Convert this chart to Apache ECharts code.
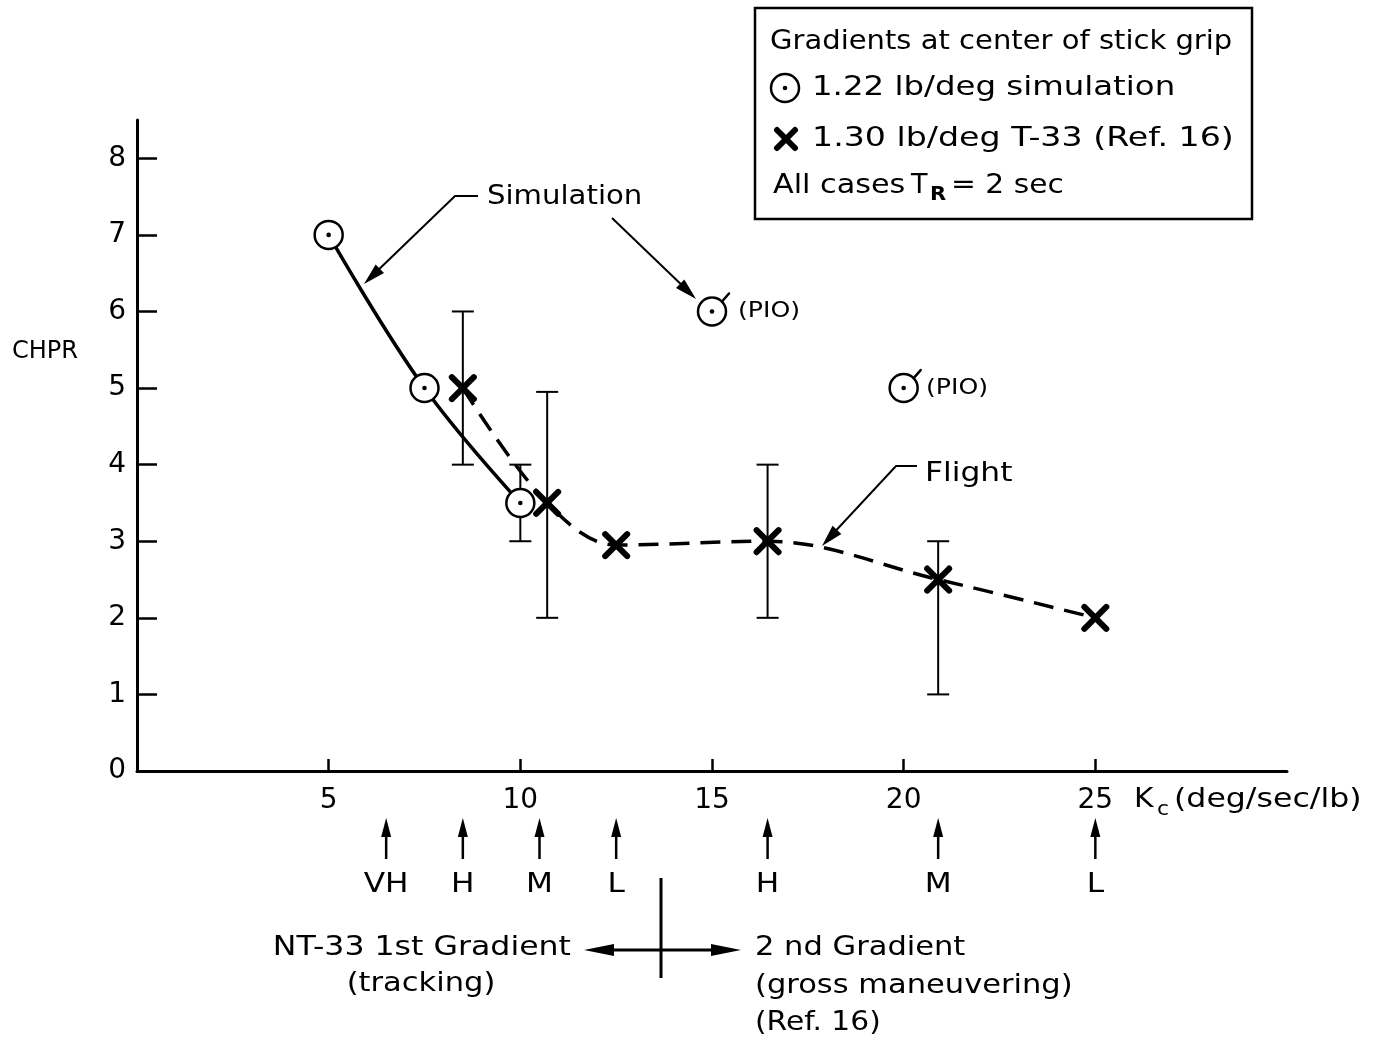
<!DOCTYPE html>
<html>
<head>
<meta charset="utf-8">
<script src="https://cdn.jsdelivr.net/npm/echarts@6/dist/echarts.min.js"></script>
<style>
  html, body { margin: 0; padding: 0; background: #fff; }
  #chart { width: 1380px; height: 1039px; }
</style>
</head>
<body>
<div id="chart"></div>
<script>
// Axis ticks
const xTicks = [5, 10, 15, 20, 25];
const yTicks = [0, 1, 2, 3, 4, 5, 6, 7, 8];

// Simulation (1.22 lb/deg): points on the faired curve, and the two PIO cases
const simCurve = [[5, 7], [7.5, 5], [10, 3.5]];
const simPio = [[15, 6], [20, 5]];
// [Kc, low, high]
const simError = [[10, 3, 4]];

// Flight, T-33 (1.30 lb/deg)
const flight = [[8.5, 5], [10.7, 3.5], [12.5, 2.95], [16.45, 3], [20.9, 2.5], [25, 2]];
// [Kc, low, high]
const flightError = [[8.5, 4, 6], [10.7, 2, 4.95], [16.45, 2, 4], [20.9, 1, 3]];

// Gradient settings marked under the axis
const gradientKc = [6.5, 8.5, 10.5, 12.5, 16.45, 20.9, 25];
const gradientNames = ['VH', 'H', 'M', 'L', 'H', 'M', 'L'];

const FONT = 'DejaVu Sans';
const INK = '#000';

function arrowHead(tip, from, len, half) {
  const dx = tip[0] - from[0], dy = tip[1] - from[1];
  const d = Math.hypot(dx, dy);
  const ux = dx / d, uy = dy / d;
  const bx = tip[0] - ux * len, by = tip[1] - uy * len;
  return [tip, [bx - uy * half, by + ux * half], [bx + uy * half, by - ux * half]];
}

// Lettering: a font size plus a horizontal stretch for the wide drafting style
function label(text, x, y, size, stretch, align, weight) {
  return {
    type: 'text', x, y, scaleX: stretch || 1,
    style: {
      text, fill: INK, font: `${weight || 'normal'} ${size}px "${FONT}"`,
      align: align || 'left', verticalAlign: 'middle'
    }
  };
}

function circleMark(cx, cy, pio) {
  const kids = [
    { type: 'circle', shape: { cx, cy, r: 14 }, style: { fill: '#fff', stroke: INK, lineWidth: 2.5 } },
    { type: 'circle', shape: { cx, cy, r: 2.3 }, style: { fill: INK } }
  ];
  if (pio) {
    kids.push({ type: 'line', shape: { x1: cx + 10, y1: cy - 10, x2: cx + 17, y2: cy - 18 },
      style: { stroke: INK, lineWidth: 2.5, lineCap: 'round' } });
  }
  return kids;
}

function crossMark(cx, cy, h) {
  const st = { stroke: INK, lineWidth: 6, lineCap: 'round' };
  return [
    { type: 'line', shape: { x1: cx - h, y1: cy - h, x2: cx + h, y2: cy + h }, style: st },
    { type: 'line', shape: { x1: cx - h, y1: cy + h, x2: cx + h, y2: cy - h }, style: st }
  ];
}

function renderError(params, api) {
  const x = api.value(0);
  const lo = api.coord([x, api.value(1)]);
  const hi = api.coord([x, api.value(2)]);
  const w = 11;
  const st = { stroke: INK, lineWidth: 2 };
  return {
    type: 'group',
    children: [
      { type: 'line', shape: { x1: lo[0], y1: lo[1], x2: hi[0], y2: hi[1] }, style: st },
      { type: 'line', shape: { x1: lo[0] - w, y1: lo[1], x2: lo[0] + w, y2: lo[1] }, style: st },
      { type: 'line', shape: { x1: hi[0] - w, y1: hi[1], x2: hi[0] + w, y2: hi[1] }, style: st }
    ]
  };
}

const circleData = simCurve.map(p => [p[0], p[1], 0]).concat(simPio.map(p => [p[0], p[1], 1]));

const chart = echarts.init(document.getElementById('chart'));

const graphics = [
  // legend box
  { type: 'rect', shape: { x: 755, y: 8, width: 497, height: 211 }, style: { fill: '#fff', stroke: INK, lineWidth: 2.5 } },
  label('Gradients at center of stick grip', 770, 42, 27, 1.075),
  { type: 'group', children: circleMark(785, 88, false) },
  label('1.22 lb/deg simulation', 812, 88, 27, 1.2),
  { type: 'group', children: crossMark(786, 139, 9) },
  label('1.30 lb/deg T-33 (Ref. 16)', 812, 139, 27, 1.23),
  label('All cases', 773, 186, 27, 1.12),
  label('T', 911, 186, 27, 1.0),
  label('R', 930, 195, 20, 1.05, 'left', 'bold'),
  label('= 2 sec', 951, 186, 27, 1.1),

  // y-axis title
  label('CHPR', 12, 352, 24, 1.0),
  // x-axis title
  label('K', 1134, 800, 27, 1.1),
  label('c', 1157, 810, 20, 1.1),
  label('(deg/sec/lb)', 1174, 800, 27, 1.17),

  // curve call-outs
  label('Simulation', 487, 197, 27, 1.08),
  { type: 'polyline', shape: { points: [[478, 196], [455, 196], [372, 276]] }, style: { stroke: INK, lineWidth: 2, fill: null } },
  { type: 'polygon', shape: { points: arrowHead([364, 284], [455, 196], 22, 6) }, style: { fill: INK } },
  { type: 'line', shape: { x1: 612, y1: 218, x2: 688, y2: 291 }, style: { stroke: INK, lineWidth: 2 } },
  { type: 'polygon', shape: { points: arrowHead([696, 299], [612, 218], 22, 6) }, style: { fill: INK } },
  label('Flight', 925, 474, 27, 1.16),
  { type: 'polyline', shape: { points: [[917, 466], [896, 466], [829, 538]] }, style: { stroke: INK, lineWidth: 2, fill: null } },
  { type: 'polygon', shape: { points: arrowHead([822, 546], [896, 466], 22, 6) }, style: { fill: INK } },

  label('(PIO)', 738, 312, 21, 1.2),
  label('(PIO)', 926, 389, 21, 1.2),

  // gradient split under the axis
  { type: 'line', shape: { x1: 661, y1: 878, x2: 661, y2: 978 }, style: { stroke: INK, lineWidth: 3 } },
  { type: 'line', shape: { x1: 600, y1: 950, x2: 725, y2: 950 }, style: { stroke: INK, lineWidth: 3 } },
  { type: 'polygon', shape: { points: arrowHead([584, 950], [661, 950], 30, 6) }, style: { fill: INK } },
  { type: 'polygon', shape: { points: arrowHead([741, 950], [661, 950], 30, 6) }, style: { fill: INK } },
  label('NT-33 1st Gradient', 571, 948, 27, 1.17, 'right'),
  label('(tracking)', 421, 984, 27, 1.13, 'center'),
  label('2 nd Gradient', 755, 948, 27, 1.13),
  label('(gross maneuvering)', 755, 986, 27, 1.13),
  label('(Ref. 16)', 755, 1023, 27, 1.1)
];

const option = {
  animation: false,
  backgroundColor: '#fff',
  grid: { left: 137, right: 93, top: 120, bottom: 268, containLabel: false },
  xAxis: {
    type: 'value', min: 0, max: 30, interval: 5,
    axisLine: { show: true, lineStyle: { color: INK, width: 3 } },
    axisTick: { show: true, inside: true, length: 12, customValues: xTicks, lineStyle: { color: INK, width: 2.5 } },
    axisLabel: { customValues: xTicks, color: INK, fontFamily: FONT, fontSize: 28, margin: 16 },
    splitLine: { show: false }
  },
  yAxis: {
    type: 'value', min: 0, max: 8.5, interval: 1,
    axisLine: { show: true, lineStyle: { color: INK, width: 3 } },
    axisTick: { show: true, inside: true, length: 20, customValues: yTicks, lineStyle: { color: INK, width: 2.5 } },
    axisLabel: { customValues: yTicks, color: INK, fontFamily: FONT, fontSize: 28, margin: 11 },
    splitLine: { show: false }
  },
  series: [
    {
      name: 'Simulation', type: 'line', data: simCurve, smooth: 0.4, symbol: 'none',
      lineStyle: { color: INK, width: 3.5 }, z: 2
    },
    {
      name: 'Flight', type: 'line', data: flight, smooth: 0.35, symbol: 'none',
      lineStyle: { color: INK, width: 3.5, type: [20, 11] }, z: 2
    },
    {
      type: 'custom', data: simError.concat(flightError), renderItem: renderError, z: 3, clip: false
    },
    {
      type: 'custom', data: circleData, z: 4, clip: false,
      renderItem: (params, api) => {
        const p = api.coord([api.value(0), api.value(1)]);
        return { type: 'group', children: circleMark(p[0], p[1], api.value(2) === 1) };
      }
    },
    {
      type: 'custom', data: flight, z: 4, clip: false,
      renderItem: (params, api) => {
        const p = api.coord([api.value(0), api.value(1)]);
        return { type: 'group', children: crossMark(p[0], p[1], 11) };
      }
    },
    {
      type: 'custom', data: gradientKc.map(k => [k, 0]), z: 4, clip: false,
      renderItem: (params, api) => {
        const p = api.coord([api.value(0), 0]);
        const x = p[0], y0 = p[1];
        return {
          type: 'group',
          children: [
            { type: 'line', shape: { x1: x, y1: y0 + 88, x2: x, y2: y0 + 62 }, style: { stroke: INK, lineWidth: 2.5 } },
            { type: 'polygon', shape: { points: [[x, y0 + 47], [x - 5, y0 + 66], [x + 5, y0 + 66]] }, style: { fill: INK } },
            label(gradientNames[params.dataIndex], x, y0 + 114, 26, 1.2, 'center')
          ]
        };
      }
    }
  ],
  graphic: graphics
};

chart.setOption(option);
</script>
</body>
</html>
